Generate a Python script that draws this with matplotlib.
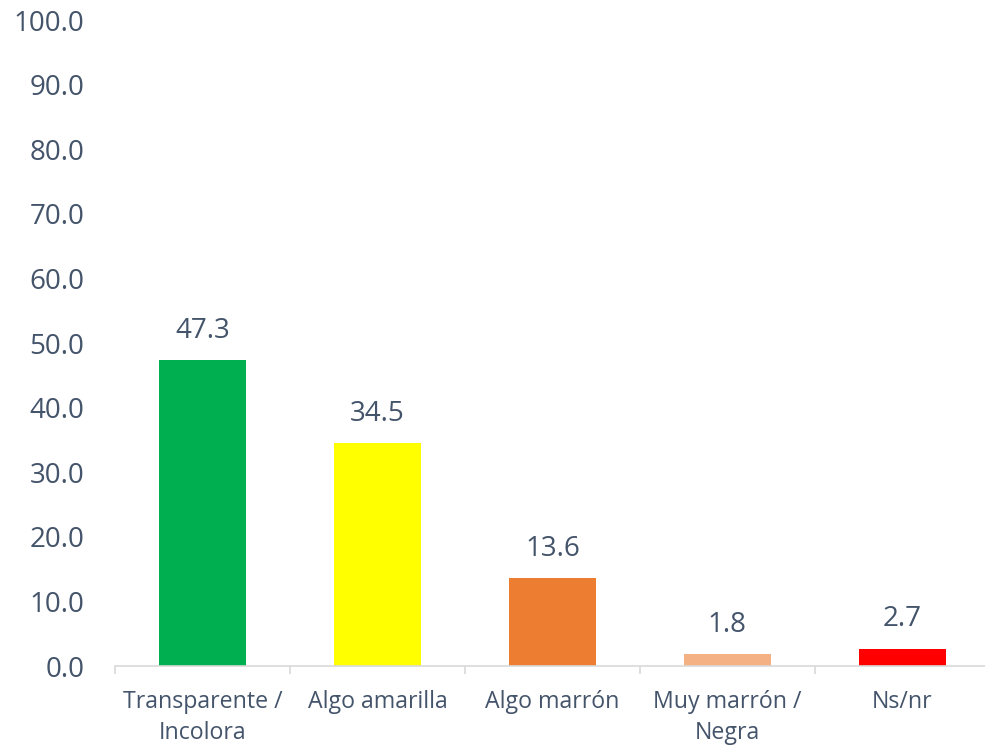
import matplotlib.pyplot as plt
import numpy as np

categories = ["Transparente /\nIncolora", "Algo amarilla", "Algo marrón",
              "Muy marrón /\nNegra", "Ns/nr"]
values = [47.3, 34.5, 13.6, 1.8, 2.7]
bar_colors = ["#00B050", "#FFFF00", "#ED7D31", "#F4B183", "#FF0000"]
y_ticks = np.arange(0, 101, 10)

text_color = "#44546A"
plt.rcParams['font.family'] = ['Open Sans', 'DejaVu Sans']

fig = plt.figure(figsize=(9.85, 7.47), dpi=100)
ax = fig.add_axes([0.1168, 0.1084, 0.888, 0.8648])

x = np.arange(len(categories))
bars = ax.bar(x, values, width=0.5, color=bar_colors, zorder=2)

for xi, v in zip(x, values):
    ax.annotate(f"{v:.1f}", (xi, v), xytext=(0, 11), textcoords="offset points",
                ha="center", va="bottom", fontsize=20, color=text_color)

ax.set_xlim(-0.5, len(categories) - 0.5)
ax.set_ylim(0, 100)
ax.set_yticks(y_ticks)
ax.set_yticklabels([f"{t:.1f}" for t in y_ticks])
ax.set_xticks(x)
ax.set_xticklabels(categories, linespacing=1.4)
ax.set_xticks(np.arange(-0.5, len(categories), 1), minor=True)

ax.tick_params(axis="y", length=0, pad=22, labelsize=20, labelcolor=text_color)
ax.tick_params(axis="x", which="major", length=0, pad=17, labelsize=16.7,
               labelcolor=text_color)
ax.tick_params(axis="x", which="minor", length=6, width=1.2, color="#D9D9D9")

for side in ["top", "right", "left"]:
    ax.spines[side].set_visible(False)
ax.spines["bottom"].set_color("#D9D9D9")
ax.spines["bottom"].set_linewidth(1.2)

fig.savefig("out.png", dpi=100)
